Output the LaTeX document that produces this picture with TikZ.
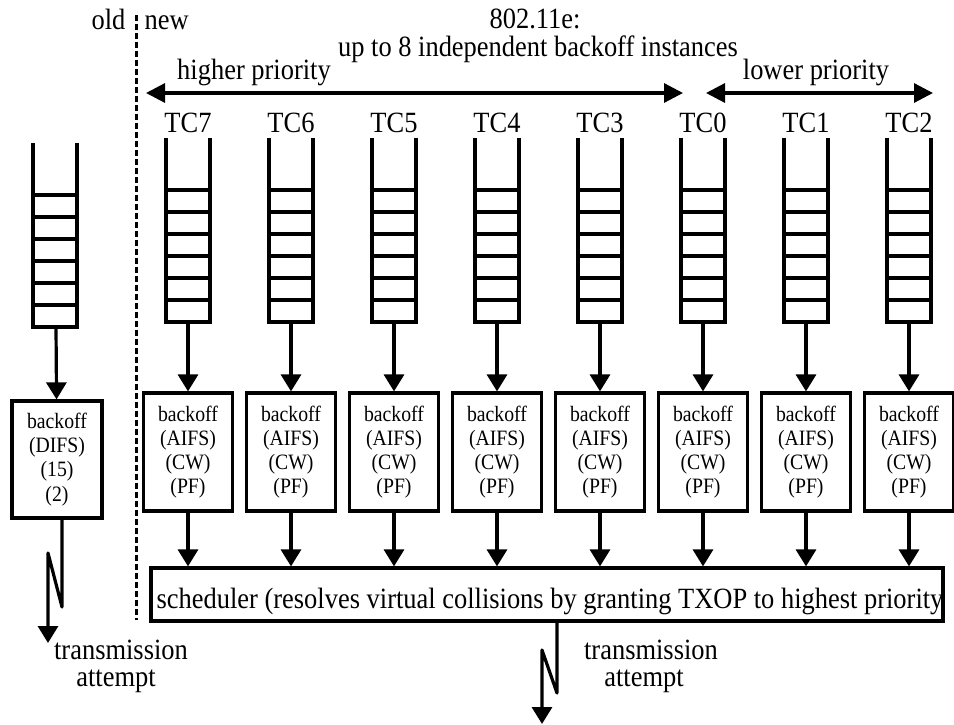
\documentclass[tikz,border=0pt]{standalone}
\usepackage{fontspec}
\setmainfont{Liberation Serif}[FakeStretch=0.9]
\usetikzlibrary{arrows.meta}
\begin{document}
\begin{tikzpicture}[x=1bp,y=-1bp,
  line width=3.2bp,
  arr/.style={-{Triangle[length=17bp,width=20bp]}},
  harr/.style={{Triangle[length=19bp,width=19bp]}-{Triangle[length=19bp,width=19bp]}},
  bigtxt/.style={font=\fontsize{29.5}{30}\selectfont, inner sep=0pt},
  bkbox/.style={draw, line width=3.2bp, minimum width=89bp, minimum height=118bp,
    align=center, inner sep=0pt, font=\fontsize{22}{24.3}\selectfont},
  ladder/.style={line width=3.5bp},
  zig/.style={arr, line join=round}]
\useasboundingbox (0,0) rectangle (954,725);

% separator between the legacy and the 802.11e station
\coordinate (dt) at (136,15);
\coordinate (db) at (136,620);
\draw[line width=3bp, dash pattern=on 6bp off 3bp] (dt) -- (db);
\node[bigtxt, anchor=base east] (old) at (127,30) {old};
\node[bigtxt, anchor=base west] (new) at (143,30) {new};

% headings
\node[bigtxt, anchor=base] (std) at (535,29) {802.11e:};
\node[bigtxt, anchor=base] (inst) at (538,57) {up to 8 independent backoff instances};
\node[bigtxt, anchor=base] (hp) at (254,80) {higher priority};
\node[bigtxt, anchor=base] (lp) at (816,80) {lower priority};
\coordinate (hl) at (146,93);
\coordinate (hr) at (683,93);
\coordinate (ll) at (706,93);
\coordinate (lr) at (933,93);
\draw[harr] (hl) -- (hr);
\draw[harr] (ll) -- (lr);

% legacy DCF: one queue, one backoff
\draw[ladder] (33,143) -- (33,327) -- (77,327) -- (77,143);
\foreach \ry in {195,217,239,261,283,305}
  \draw[ladder] (33,\ry) -- (77,\ry);
\coordinate (qold) at (56,327);
\node[bkbox, minimum width=90bp, minimum height=117bp] (lb) at (57,459.5)
  {backoff\\(DIFS)\\(15)\\(2)};
\draw[arr] (qold) -- (lb);
\coordinate (lz1) at (62,607);
\coordinate (lz2) at (48,553);
\coordinate (ltip) at (48,643);
\draw[zig] (lb.south -| lz1) -- (lz1) -- (lz2) -- (ltip);
\node[bigtxt, anchor=base] (lt1) at (121,659) {transmission};
\node[bigtxt, anchor=base] (lt2) at (116,686) {attempt};

% EDCA: one queue and one backoff entity per traffic category
\node[draw, line width=3.2bp, minimum width=792bp, minimum height=53bp, inner sep=0pt]
  (sch) at (547,594.5) {};
\node[bigtxt, anchor=base west] (schtxt) at (155,608)
  {scheduler (resolves virtual collisions by granting TXOP to highest priority};
\foreach \n/\cx in {7/188,6/291,5/394,4/497,3/600,0/703,1/806,2/909} {
  \node[bigtxt, anchor=base] (tc\n) at (\cx,133) {TC\n};
  \draw[ladder] (\cx-22,138) -- (\cx-22,322) -- (\cx+22,322) -- (\cx+22,138);
  \foreach \ry in {190,212,234,256,278,300}
    \draw[ladder] (\cx-22,\ry) -- (\cx+22,\ry);
  \coordinate (q\n) at (\cx,322);
  \node[bkbox] (b\n) at (\cx,452) {backoff\\(AIFS)\\(CW)\\(PF)};
  \draw[arr] (q\n) -- (b\n);
  \draw[arr] (b\n) -- (b\n.south |- sch.north);
}

\coordinate (bz1) at (557,693);
\coordinate (bz2) at (542,650);
\coordinate (btip) at (542,724);
\draw[zig] (sch.south -| bz1) -- (bz1) -- (bz2) -- (btip);
\node[bigtxt, anchor=base] (rt1) at (651,659) {transmission};
\node[bigtxt, anchor=base] (rt2) at (644,686) {attempt};
\end{tikzpicture}
\end{document}
